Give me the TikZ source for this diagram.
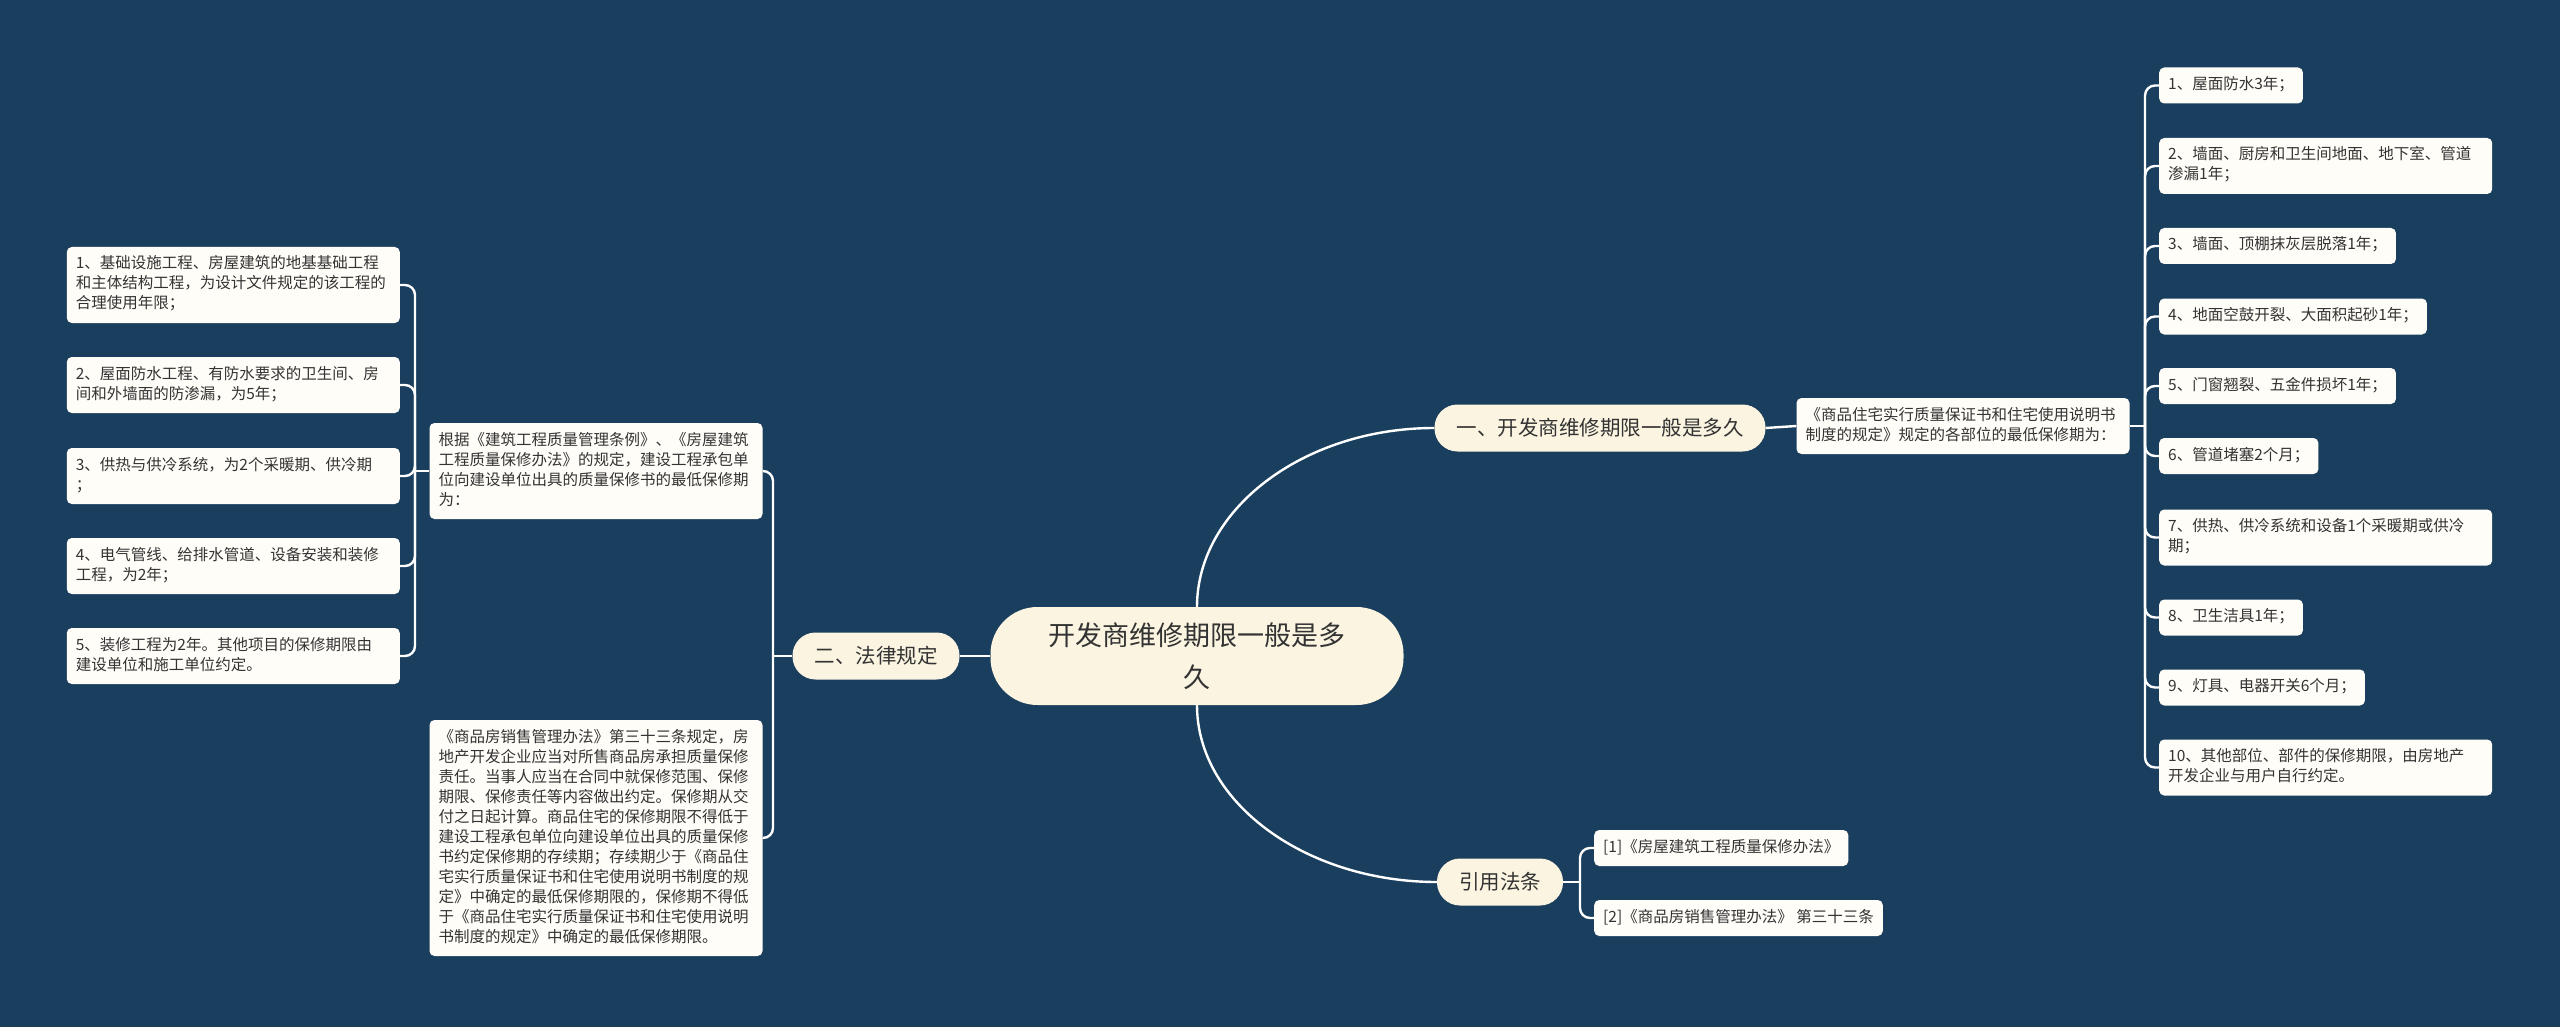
\documentclass[tikz,border=0pt]{standalone}
\usepackage{fontspec}
\setmainfont{Noto Sans CJK SC}
\usepackage{xcolor}
\definecolor{mapbg}{HTML}{1A3E5E}
\definecolor{mapcream}{HTML}{FAF4E1}
\definecolor{mapleaf}{HTML}{FFFDF8}
\definecolor{maptext}{HTML}{333333}
\usetikzlibrary{calc,positioning}

\begin{document}
\begin{tikzpicture}[x=1pt, y=-1pt,
		link/.style={white, line width=2.4pt},
		hook/.style={link, rounded corners=10pt},
		root/.style={fill=mapcream, text=maptext, rounded corners=47pt, minimum width=413pt, minimum height=98pt, align=center, font=\fontsize{27}{42}\selectfont},
		topic/.style={fill=mapcream, text=maptext, rounded corners=23pt, minimum height=47pt, inner xsep=22pt, font=\fontsize{20.5}{24}\selectfont},
		leaf/.style={fill=mapleaf, text=maptext, rounded corners=5pt, inner xsep=9pt, inner ysep=8pt, align=left, font=\fontsize{15.5}{20}\selectfont, execute at begin node=\strut, execute at end node=\strut},
		leafwide/.style={leaf, text width=315pt}]
			\useasboundingbox (0,0) rectangle (2560,1027);
			\fill[mapbg] (0,0) rectangle (2560,1027);

			% centre and first level
			\node[root] (cen) at (1197,656) {开发商维修期限一般是多\\久};
			\node[topic] (one) at (1600,428) {一、开发商维修期限一般是多久};
			\node[topic] (two) at (876,656) {二、法律规定};
			\node[topic] (ref) at (1500,882) {引用法条};

			% right branch
			\node[leafwide] (sp) at (1963,426) {《商品住宅实行质量保证书和住宅使用说明书\\制度的规定》规定的各部位的最低保修期为：};
			\node[leaf, anchor=west] (r1) at (2159,85.5) {1、屋面防水3年；};
			\node[leafwide, anchor=west] (r2) at (2159,166) {2、墙面、厨房和卫生间地面、地下室、管道\\渗漏1年；};
			\node[leaf, anchor=west] (r3) at (2159,246) {3、墙面、顶棚抹灰层脱落1年；};
			\node[leaf, anchor=west] (r4) at (2159,316.5) {4、地面空鼓开裂、大面积起砂1年；};
			\node[leaf, anchor=west] (r5) at (2159,386) {5、门窗翘裂、五金件损坏1年；};
			\node[leaf, anchor=west] (r6) at (2159,456) {6、管道堵塞2个月；};
			\node[leafwide, anchor=west] (r7) at (2159,537.5) {7、供热、供冷系统和设备1个采暖期或供冷\\期；};
			\node[leaf, anchor=west] (r8) at (2159,617.5) {8、卫生洁具1年；};
			\node[leaf, anchor=west] (r9) at (2159,687.5) {9、灯具、电器开关6个月；};
			\node[leafwide, anchor=west] (r10) at (2159,767.5) {10、其他部位、部件的保修期限，由房地产\\开发企业与用户自行约定。};

			% references
			\node[leaf, anchor=west] (c1) at (1594,848) {[1]《房屋建筑工程质量保修办法》};
			\node[leaf, anchor=west] (c2) at (1594,918) {[2]《商品房销售管理办法》 第三十三条};

			% left branch
			\node[leafwide] (gen) at (596,471) {根据《建筑工程质量管理条例》、《房屋建筑\\工程质量保修办法》的规定，建设工程承包单\\位向建设单位出具的质量保修书的最低保修期\\为：};
			\node[leafwide] (sale) at (596,838) {《商品房销售管理办法》第三十三条规定，房\\地产开发企业应当对所售商品房承担质量保修\\责任。当事人应当在合同中就保修范围、保修\\期限、保修责任等内容做出约定。保修期从交\\付之日起计算。商品住宅的保修期限不得低于\\建设工程承包单位向建设单位出具的质量保修\\书约定保修期的存续期；存续期少于《商品住\\宅实行质量保证书和住宅使用说明书制度的规\\定》中确定的最低保修期限的，保修期不得低\\于《商品住宅实行质量保证书和住宅使用说明\\书制度的规定》中确定的最低保修期限。};
			\node[leafwide, anchor=east] (l1) at (400,285) {1、基础设施工程、房屋建筑的地基基础工程\\和主体结构工程，为设计文件规定的该工程的\\合理使用年限；};
			\node[leafwide, anchor=east] (l2) at (400,385) {2、屋面防水工程、有防水要求的卫生间、房\\间和外墙面的防渗漏，为5年；};
			\node[leafwide, anchor=east] (l3) at (400,476) {3、供热与供冷系统，为2个采暖期、供冷期\\；};
			\node[leafwide, anchor=east] (l4) at (400,566) {4、电气管线、给排水管道、设备安装和装修\\工程，为2年；};
			\node[leafwide, anchor=east] (l5) at (400,656) {5、装修工程为2年。其他项目的保修期限由\\建设单位和施工单位约定。};

			% connectors
			\draw[link] (cen.west) -- (two.east);
			\draw[link] (cen.north) .. controls +(0,-98) and +(-130,0) .. (one.west);
			\draw[link] (cen.south) .. controls +(0,98) and +(-130,0) .. (ref.west);
			\draw[link] (one.east) -- (sp.west);

			\coordinate (spj) at (2145,426);
			\draw[link] (sp.east) -- (spj);
			\foreach \i in {1,...,10} {
				\draw[hook] (spj) |- (r\i.west);
			}

			\coordinate (refj) at (1580,882);
			\draw[link] (ref.east) -- (refj);
			\draw[hook] (refj) |- (c1.west);
			\draw[hook] (refj) |- (c2.west);

			\coordinate (twoj) at (773,656);
			\draw[link] (two.west) -- (twoj);
			\draw[hook] (twoj) |- (gen.east);
			\draw[hook] (twoj) |- (sale.east);

			\coordinate (genj) at (415,471);
			\draw[link] (gen.west) -- (genj);
			\foreach \i in {1,...,5} {
				\draw[hook] (genj) |- (l\i.east);
			}
		\end{tikzpicture}
\end{document}
